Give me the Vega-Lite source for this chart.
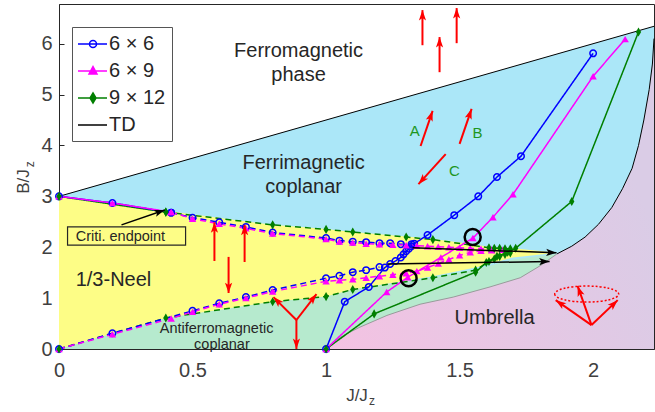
{
  "$schema": "https://vega.github.io/schema/vega-lite/v6.json",
  "width": 595,
  "height": 345,
  "autosize": {"type": "none"},
  "padding": {"left": 59, "top": 4, "right": 1, "bottom": 63},
  "background": "white",
  "config": {
    "view": {"stroke": "#262626", "strokeWidth": 1},
    "axis": {"grid": false, "domainColor": "#262626", "tickColor": "#262626", "labelColor": "#404040", "titleColor": "#404040", "labelFont": "Liberation Sans", "titleFont": "Liberation Sans", "labelFontSize": 20, "titleFontSize": 17, "titleFontWeight": "normal", "tickSize": -5, "labelFlush": false},
    "text": {"font": "Liberation Sans"},
    "legend": {"orient": "none", "legendX": 13, "legendY": 23, "padding": 6, "strokeColor": "#555555", "fillColor": "white", "labelFont": "Liberation Sans", "labelFontSize": 20, "labelColor": "#262626", "symbolSize": 400, "symbolStrokeWidth": 1.5, "rowPadding": 6, "labelOffset": 9, "symbolOpacity": 1, "cornerRadius": 0}
  },
  "datasets": {
    "regions": [
      {"region": "ferri", "i": 0, "x": 0, "y": 3},
      {"region": "ferri", "i": 1, "x": 2.228, "y": 6.342},
      {"region": "ferri", "i": 2, "x": 2.228, "y": 0},
      {"region": "ferri", "i": 3, "x": 0, "y": 0},
      {"region": "umbrella", "i": 0, "x": 1.0, "y": 0},
      {"region": "umbrella", "i": 1, "x": 1.03, "y": 0.15},
      {"region": "umbrella", "i": 2, "x": 1.07, "y": 0.28},
      {"region": "umbrella", "i": 3, "x": 1.127, "y": 0.43},
      {"region": "umbrella", "i": 4, "x": 1.228, "y": 0.66},
      {"region": "umbrella", "i": 5, "x": 1.352, "y": 0.88},
      {"region": "umbrella", "i": 6, "x": 1.476, "y": 1.02},
      {"region": "umbrella", "i": 7, "x": 1.614, "y": 1.22},
      {"region": "umbrella", "i": 8, "x": 1.727, "y": 1.4},
      {"region": "umbrella", "i": 9, "x": 1.8, "y": 1.63},
      {"region": "umbrella", "i": 10, "x": 1.865, "y": 1.87},
      {"region": "umbrella", "i": 11, "x": 1.92, "y": 2.02},
      {"region": "umbrella", "i": 12, "x": 1.97, "y": 2.2},
      {"region": "umbrella", "i": 13, "x": 2.02, "y": 2.45},
      {"region": "umbrella", "i": 14, "x": 2.07, "y": 2.78},
      {"region": "umbrella", "i": 15, "x": 2.11, "y": 3.15},
      {"region": "umbrella", "i": 16, "x": 2.146, "y": 3.55},
      {"region": "umbrella", "i": 17, "x": 2.17, "y": 4.0},
      {"region": "umbrella", "i": 18, "x": 2.19, "y": 4.5},
      {"region": "umbrella", "i": 19, "x": 2.21, "y": 5.1},
      {"region": "umbrella", "i": 20, "x": 2.222, "y": 5.6},
      {"region": "umbrella", "i": 21, "x": 2.228, "y": 6.1},
      {"region": "umbrella", "i": 22, "x": 2.228, "y": 0},
      {"region": "afm", "i": 0, "x": 0, "y": 0},
      {"region": "afm", "i": 1, "x": 0.4, "y": 0.61},
      {"region": "afm", "i": 2, "x": 0.8, "y": 0.93},
      {"region": "afm", "i": 3, "x": 1.0, "y": 1.03},
      {"region": "afm", "i": 4, "x": 1.1, "y": 1.17},
      {"region": "afm", "i": 5, "x": 1.4, "y": 1.4},
      {"region": "afm", "i": 6, "x": 1.56, "y": 1.56},
      {"region": "afm", "i": 7, "x": 1.7, "y": 1.76},
      {"region": "afm", "i": 8, "x": 1.865, "y": 1.87},
      {"region": "afm", "i": 9, "x": 1.8, "y": 1.63},
      {"region": "afm", "i": 10, "x": 1.727, "y": 1.4},
      {"region": "afm", "i": 11, "x": 1.614, "y": 1.22},
      {"region": "afm", "i": 12, "x": 1.476, "y": 1.02},
      {"region": "afm", "i": 13, "x": 1.352, "y": 0.88},
      {"region": "afm", "i": 14, "x": 1.228, "y": 0.66},
      {"region": "afm", "i": 15, "x": 1.127, "y": 0.43},
      {"region": "afm", "i": 16, "x": 1.07, "y": 0.28},
      {"region": "afm", "i": 17, "x": 1.03, "y": 0.15},
      {"region": "afm", "i": 18, "x": 1.0, "y": 0},
      {"region": "neel", "i": 0, "x": 0, "y": 3},
      {"region": "neel", "i": 1, "x": 0.42, "y": 2.7},
      {"region": "neel", "i": 2, "x": 0.8, "y": 2.44},
      {"region": "neel", "i": 3, "x": 1.0, "y": 2.36},
      {"region": "neel", "i": 4, "x": 1.1, "y": 2.3},
      {"region": "neel", "i": 5, "x": 1.3, "y": 2.21},
      {"region": "neel", "i": 6, "x": 1.4, "y": 2.16},
      {"region": "neel", "i": 7, "x": 1.55, "y": 2.06},
      {"region": "neel", "i": 8, "x": 1.62, "y": 2.0},
      {"region": "neel", "i": 9, "x": 1.7, "y": 1.98},
      {"region": "neel", "i": 10, "x": 1.865, "y": 1.89},
      {"region": "neel", "i": 11, "x": 1.7, "y": 1.8},
      {"region": "neel", "i": 12, "x": 1.56, "y": 1.6},
      {"region": "neel", "i": 13, "x": 1.4, "y": 1.43},
      {"region": "neel", "i": 14, "x": 1.1, "y": 1.17},
      {"region": "neel", "i": 15, "x": 1.0, "y": 1.03},
      {"region": "neel", "i": 16, "x": 0.8, "y": 0.93},
      {"region": "neel", "i": 17, "x": 0.4, "y": 0.61},
      {"region": "neel", "i": 18, "x": 0, "y": 0}
    ],
    "bounds": [
      {"curve": "tdline", "i": 0, "x": 0, "y": 3},
      {"curve": "tdline", "i": 1, "x": 2.228, "y": 6.342},
      {"curve": "tdcurve", "i": 0, "x": 1.865, "y": 1.87},
      {"curve": "tdcurve", "i": 1, "x": 1.92, "y": 2.02},
      {"curve": "tdcurve", "i": 2, "x": 1.97, "y": 2.2},
      {"curve": "tdcurve", "i": 3, "x": 2.02, "y": 2.45},
      {"curve": "tdcurve", "i": 4, "x": 2.07, "y": 2.78},
      {"curve": "tdcurve", "i": 5, "x": 2.11, "y": 3.15},
      {"curve": "tdcurve", "i": 6, "x": 2.146, "y": 3.55},
      {"curve": "tdcurve", "i": 7, "x": 2.17, "y": 4.0},
      {"curve": "tdcurve", "i": 8, "x": 2.19, "y": 4.5},
      {"curve": "tdcurve", "i": 9, "x": 2.21, "y": 5.1},
      {"curve": "tdcurve", "i": 10, "x": 2.222, "y": 5.6},
      {"curve": "tdcurve", "i": 11, "x": 2.228, "y": 6.1},
      {"curve": "gray", "i": 0, "x": 1.0, "y": 0},
      {"curve": "gray", "i": 1, "x": 1.03, "y": 0.15},
      {"curve": "gray", "i": 2, "x": 1.07, "y": 0.28},
      {"curve": "gray", "i": 3, "x": 1.127, "y": 0.43},
      {"curve": "gray", "i": 4, "x": 1.228, "y": 0.66},
      {"curve": "gray", "i": 5, "x": 1.352, "y": 0.88},
      {"curve": "gray", "i": 6, "x": 1.476, "y": 1.02},
      {"curve": "gray", "i": 7, "x": 1.614, "y": 1.22},
      {"curve": "gray", "i": 8, "x": 1.727, "y": 1.4},
      {"curve": "gray", "i": 9, "x": 1.8, "y": 1.63},
      {"curve": "gray", "i": 10, "x": 1.865, "y": 1.87}
    ],
    "series": [
      {"lattice": "6 × 6", "branch": "first", "x": 0, "y": 3.0},
      {"lattice": "6 × 6", "branch": "first", "x": 0.2, "y": 2.87},
      {"lattice": "6 × 6", "branch": "first", "x": 0.42, "y": 2.68},
      {"lattice": "6 × 6", "branch": "upper", "x": 0.42, "y": 2.68},
      {"lattice": "6 × 6", "branch": "upper", "x": 0.5, "y": 2.58},
      {"lattice": "6 × 6", "branch": "upper", "x": 0.6, "y": 2.49},
      {"lattice": "6 × 6", "branch": "upper", "x": 0.7, "y": 2.4},
      {"lattice": "6 × 6", "branch": "upper", "x": 0.8, "y": 2.29},
      {"lattice": "6 × 6", "branch": "upper", "x": 1.0, "y": 2.18},
      {"lattice": "6 × 6", "branch": "upper", "x": 1.05, "y": 2.13},
      {"lattice": "6 × 6", "branch": "upper", "x": 1.1, "y": 2.11},
      {"lattice": "6 × 6", "branch": "upper", "x": 1.15, "y": 2.1},
      {"lattice": "6 × 6", "branch": "upper", "x": 1.2, "y": 2.08},
      {"lattice": "6 × 6", "branch": "upper", "x": 1.24, "y": 2.08},
      {"lattice": "6 × 6", "branch": "upper", "x": 1.28, "y": 2.06},
      {"lattice": "6 × 6", "branch": "upper", "x": 1.32, "y": 2.06},
      {"lattice": "6 × 6", "branch": "lower", "x": 0, "y": 0},
      {"lattice": "6 × 6", "branch": "lower", "x": 0.2, "y": 0.31},
      {"lattice": "6 × 6", "branch": "lower", "x": 0.5, "y": 0.75},
      {"lattice": "6 × 6", "branch": "lower", "x": 0.6, "y": 0.9},
      {"lattice": "6 × 6", "branch": "lower", "x": 0.7, "y": 1.02},
      {"lattice": "6 × 6", "branch": "lower", "x": 0.8, "y": 1.16},
      {"lattice": "6 × 6", "branch": "lower", "x": 1.0, "y": 1.39},
      {"lattice": "6 × 6", "branch": "lower", "x": 1.05, "y": 1.44},
      {"lattice": "6 × 6", "branch": "lower", "x": 1.1, "y": 1.51},
      {"lattice": "6 × 6", "branch": "lower", "x": 1.15, "y": 1.55},
      {"lattice": "6 × 6", "branch": "lower", "x": 1.2, "y": 1.61},
      {"lattice": "6 × 6", "branch": "transition", "x": 1.0, "y": 0},
      {"lattice": "6 × 6", "branch": "transition", "x": 1.07, "y": 0.93},
      {"lattice": "6 × 6", "branch": "transition", "x": 1.16, "y": 1.22},
      {"lattice": "6 × 6", "branch": "transition", "x": 1.22, "y": 1.6},
      {"lattice": "6 × 6", "branch": "transition", "x": 1.24, "y": 1.67},
      {"lattice": "6 × 6", "branch": "transition", "x": 1.26, "y": 1.73},
      {"lattice": "6 × 6", "branch": "transition", "x": 1.28, "y": 1.8},
      {"lattice": "6 × 6", "branch": "transition", "x": 1.29, "y": 1.86},
      {"lattice": "6 × 6", "branch": "transition", "x": 1.3, "y": 1.92},
      {"lattice": "6 × 6", "branch": "transition", "x": 1.31, "y": 1.97},
      {"lattice": "6 × 6", "branch": "transition", "x": 1.32, "y": 2.02},
      {"lattice": "6 × 6", "branch": "transition", "x": 1.33, "y": 2.07},
      {"lattice": "6 × 6", "branch": "transition", "x": 1.38, "y": 2.24},
      {"lattice": "6 × 6", "branch": "transition", "x": 1.48, "y": 2.63},
      {"lattice": "6 × 6", "branch": "transition", "x": 1.57, "y": 3.0},
      {"lattice": "6 × 6", "branch": "transition", "x": 1.64, "y": 3.38},
      {"lattice": "6 × 6", "branch": "transition", "x": 1.73, "y": 3.79},
      {"lattice": "6 × 6", "branch": "transition", "x": 2.0, "y": 5.81},
      {"lattice": "6 × 9", "branch": "first", "x": 0, "y": 3.0},
      {"lattice": "6 × 9", "branch": "first", "x": 0.2, "y": 2.87},
      {"lattice": "6 × 9", "branch": "first", "x": 0.42, "y": 2.69},
      {"lattice": "6 × 9", "branch": "upper", "x": 0.42, "y": 2.69},
      {"lattice": "6 × 9", "branch": "upper", "x": 0.5, "y": 2.56},
      {"lattice": "6 × 9", "branch": "upper", "x": 0.6, "y": 2.46},
      {"lattice": "6 × 9", "branch": "upper", "x": 0.7, "y": 2.37},
      {"lattice": "6 × 9", "branch": "upper", "x": 0.8, "y": 2.27},
      {"lattice": "6 × 9", "branch": "upper", "x": 1.0, "y": 2.16},
      {"lattice": "6 × 9", "branch": "upper", "x": 1.05, "y": 2.11},
      {"lattice": "6 × 9", "branch": "upper", "x": 1.1, "y": 2.09},
      {"lattice": "6 × 9", "branch": "upper", "x": 1.15, "y": 2.07},
      {"lattice": "6 × 9", "branch": "upper", "x": 1.2, "y": 2.06},
      {"lattice": "6 × 9", "branch": "upper", "x": 1.25, "y": 2.05},
      {"lattice": "6 × 9", "branch": "upper", "x": 1.3, "y": 2.04},
      {"lattice": "6 × 9", "branch": "upper", "x": 1.34, "y": 2.03},
      {"lattice": "6 × 9", "branch": "upper", "x": 1.38, "y": 2.02},
      {"lattice": "6 × 9", "branch": "upper", "x": 1.42, "y": 2.01},
      {"lattice": "6 × 9", "branch": "upper", "x": 1.46, "y": 2.0},
      {"lattice": "6 × 9", "branch": "upper", "x": 1.5, "y": 1.99},
      {"lattice": "6 × 9", "branch": "upper", "x": 1.54, "y": 1.98},
      {"lattice": "6 × 9", "branch": "upper", "x": 1.58, "y": 1.97},
      {"lattice": "6 × 9", "branch": "upper", "x": 1.62, "y": 1.96},
      {"lattice": "6 × 9", "branch": "upper", "x": 1.66, "y": 1.95},
      {"lattice": "6 × 9", "branch": "lower", "x": 0, "y": 0},
      {"lattice": "6 × 9", "branch": "lower", "x": 0.2, "y": 0.29},
      {"lattice": "6 × 9", "branch": "lower", "x": 0.42, "y": 0.6},
      {"lattice": "6 × 9", "branch": "lower", "x": 0.5, "y": 0.73},
      {"lattice": "6 × 9", "branch": "lower", "x": 0.6, "y": 0.88},
      {"lattice": "6 × 9", "branch": "lower", "x": 0.7, "y": 1.0},
      {"lattice": "6 × 9", "branch": "lower", "x": 0.8, "y": 1.13},
      {"lattice": "6 × 9", "branch": "lower", "x": 1.0, "y": 1.33},
      {"lattice": "6 × 9", "branch": "lower", "x": 1.05, "y": 1.35},
      {"lattice": "6 × 9", "branch": "lower", "x": 1.1, "y": 1.37},
      {"lattice": "6 × 9", "branch": "lower", "x": 1.15, "y": 1.4},
      {"lattice": "6 × 9", "branch": "lower", "x": 1.2, "y": 1.43},
      {"lattice": "6 × 9", "branch": "lower", "x": 1.25, "y": 1.46},
      {"lattice": "6 × 9", "branch": "lower", "x": 1.3, "y": 1.49},
      {"lattice": "6 × 9", "branch": "lower", "x": 1.34, "y": 1.53},
      {"lattice": "6 × 9", "branch": "lower", "x": 1.38, "y": 1.6},
      {"lattice": "6 × 9", "branch": "lower", "x": 1.42, "y": 1.68},
      {"lattice": "6 × 9", "branch": "lower", "x": 1.46, "y": 1.76},
      {"lattice": "6 × 9", "branch": "lower", "x": 1.5, "y": 1.84},
      {"lattice": "6 × 9", "branch": "lower", "x": 1.54, "y": 1.9},
      {"lattice": "6 × 9", "branch": "lower", "x": 1.58, "y": 1.93},
      {"lattice": "6 × 9", "branch": "lower", "x": 1.62, "y": 1.94},
      {"lattice": "6 × 9", "branch": "transition", "x": 1.0, "y": 0},
      {"lattice": "6 × 9", "branch": "transition", "x": 1.227, "y": 1.12},
      {"lattice": "6 × 9", "branch": "transition", "x": 1.306, "y": 1.41},
      {"lattice": "6 × 9", "branch": "transition", "x": 1.43, "y": 1.8},
      {"lattice": "6 × 9", "branch": "transition", "x": 1.55, "y": 2.18},
      {"lattice": "6 × 9", "branch": "transition", "x": 1.625, "y": 2.59},
      {"lattice": "6 × 9", "branch": "transition", "x": 1.7, "y": 3.04},
      {"lattice": "6 × 9", "branch": "transition", "x": 2.0, "y": 5.36},
      {"lattice": "6 × 9", "branch": "transition", "x": 2.12, "y": 6.09},
      {"lattice": "9 × 12", "branch": "first", "x": 0, "y": 3.0},
      {"lattice": "9 × 12", "branch": "first", "x": 0.4, "y": 2.69},
      {"lattice": "9 × 12", "branch": "upper", "x": 0.4, "y": 2.69},
      {"lattice": "9 × 12", "branch": "upper", "x": 0.8, "y": 2.44},
      {"lattice": "9 × 12", "branch": "upper", "x": 1.0, "y": 2.35},
      {"lattice": "9 × 12", "branch": "upper", "x": 1.1, "y": 2.3},
      {"lattice": "9 × 12", "branch": "upper", "x": 1.3, "y": 2.2},
      {"lattice": "9 × 12", "branch": "upper", "x": 1.4, "y": 2.15},
      {"lattice": "9 × 12", "branch": "upper", "x": 1.61, "y": 1.99},
      {"lattice": "9 × 12", "branch": "upper", "x": 1.63, "y": 1.98},
      {"lattice": "9 × 12", "branch": "upper", "x": 1.65, "y": 1.98},
      {"lattice": "9 × 12", "branch": "upper", "x": 1.67, "y": 1.97},
      {"lattice": "9 × 12", "branch": "upper", "x": 1.69, "y": 1.97},
      {"lattice": "9 × 12", "branch": "lower", "x": 0, "y": 0},
      {"lattice": "9 × 12", "branch": "lower", "x": 0.4, "y": 0.61},
      {"lattice": "9 × 12", "branch": "lower", "x": 0.8, "y": 0.93},
      {"lattice": "9 × 12", "branch": "lower", "x": 1.0, "y": 1.03},
      {"lattice": "9 × 12", "branch": "lower", "x": 1.1, "y": 1.17},
      {"lattice": "9 × 12", "branch": "lower", "x": 1.4, "y": 1.4},
      {"lattice": "9 × 12", "branch": "lower", "x": 1.56, "y": 1.55},
      {"lattice": "9 × 12", "branch": "lower", "x": 1.61, "y": 1.72},
      {"lattice": "9 × 12", "branch": "lower", "x": 1.63, "y": 1.77},
      {"lattice": "9 × 12", "branch": "lower", "x": 1.65, "y": 1.82},
      {"lattice": "9 × 12", "branch": "lower", "x": 1.67, "y": 1.86},
      {"lattice": "9 × 12", "branch": "lower", "x": 1.69, "y": 1.89},
      {"lattice": "9 × 12", "branch": "transition", "x": 1.0, "y": 0},
      {"lattice": "9 × 12", "branch": "transition", "x": 1.18, "y": 0.69},
      {"lattice": "9 × 12", "branch": "transition", "x": 1.56, "y": 1.51},
      {"lattice": "9 × 12", "branch": "transition", "x": 1.6, "y": 1.7},
      {"lattice": "9 × 12", "branch": "transition", "x": 1.64, "y": 1.82},
      {"lattice": "9 × 12", "branch": "transition", "x": 1.68, "y": 1.9},
      {"lattice": "9 × 12", "branch": "transition", "x": 1.71, "y": 1.98},
      {"lattice": "9 × 12", "branch": "transition", "x": 1.92, "y": 2.9},
      {"lattice": "9 × 12", "branch": "transition", "x": 2.17, "y": 6.23}
    ],
    "arrows": [
      {"kind": "red", "x": 1.361, "y": 5.97, "x2": 1.361, "y2": 6.66},
      {"kind": "red", "x": 1.425, "y": 5.44, "x2": 1.425, "y2": 6.13},
      {"kind": "red", "x": 1.489, "y": 6.01, "x2": 1.489, "y2": 6.7},
      {"kind": "red", "x": 1.354, "y": 3.99, "x2": 1.399, "y2": 4.68},
      {"kind": "red", "x": 1.5, "y": 4.03, "x2": 1.545, "y2": 4.72},
      {"kind": "red", "x": 1.448, "y": 3.83, "x2": 1.346, "y2": 3.24},
      {"kind": "red", "x": 0.582, "y": 1.73, "x2": 0.582, "y2": 2.49},
      {"kind": "red", "x": 0.695, "y": 1.71, "x2": 0.695, "y2": 2.44},
      {"kind": "red", "x": 0.635, "y": 1.81, "x2": 0.635, "y2": 1.1},
      {"kind": "red", "x": 0.889, "y": 0.57, "x2": 0.803, "y2": 1.02},
      {"kind": "red", "x": 0.889, "y": 0.57, "x2": 0.964, "y2": 1.08},
      {"kind": "red", "x": 0.889, "y": 0.57, "x2": 0.889, "y2": 0.0},
      {"kind": "red", "x": 1.994, "y": 0.47, "x2": 1.86, "y2": 0.96},
      {"kind": "red", "x": 1.994, "y": 0.47, "x2": 1.942, "y2": 1.24},
      {"kind": "red", "x": 1.994, "y": 0.47, "x2": 2.092, "y2": 0.96},
      {"kind": "black", "x": 0.234, "y": 2.44, "x2": 0.396, "y2": 2.73},
      {"kind": "black", "x": 1.324, "y": 1.99, "x2": 1.863, "y2": 1.89},
      {"kind": "black", "x": 1.23, "y": 1.67, "x2": 1.837, "y2": 1.72}
    ],
    "labels": [
      {"kind": "big", "text": "Ferromagnetic", "x": 0.897, "y": 5.85},
      {"kind": "big", "text": "phase", "x": 0.897, "y": 5.38},
      {"kind": "big", "text": "Ferrimagnetic", "x": 0.916, "y": 3.65},
      {"kind": "big", "text": "coplanar", "x": 0.916, "y": 3.18},
      {"kind": "big", "text": "1/3-Neel", "x": 0.204, "y": 1.36},
      {"kind": "big", "text": "Umbrella", "x": 1.631, "y": 0.61},
      {"kind": "small", "text": "Antiferromagnetic", "x": 0.59, "y": 0.39},
      {"kind": "small", "text": "coplanar", "x": 0.61, "y": 0.08},
      {"kind": "small", "text": "Criti. endpoint", "x": 0.23, "y": 2.2},
      {"kind": "abc", "text": "A", "x": 1.332, "y": 4.28},
      {"kind": "abc", "text": "B", "x": 1.567, "y": 4.24},
      {"kind": "abc", "text": "C", "x": 1.481, "y": 3.5}
    ]
  },
  "layer": [
    {
      "data": {"values": [{"lattice": "6 × 6"}, {"lattice": "6 × 9"}, {"lattice": "9 × 12"}, {"lattice": "TD"}]},
      "mark": {"type": "point", "clip": true, "opacity": 1, "strokeWidth": 1.5},
      "encoding": {
        "x": {"datum": -1, "type": "quantitative"},
        "y": {"datum": -1, "type": "quantitative"},
        "shape": {"field": "lattice", "type": "nominal", "legend": {"title": null}, "scale": {"domain": ["6 × 6", "6 × 9", "9 × 12", "TD"], "range": ["M-1.1,0H1.8M0.75,0A0.35,0.35,0,1,1,0.05,0A0.35,0.35,0,1,1,0.75,0Z", "M-1.1,0H1.8M0.4,-0.45L0.8,0.3L0,0.3Z", "M-1.1,0H1.8M0.4,-0.5L0.7,0L0.4,0.5L0.1,0Z", "M-1.1,0H1.8"]}},
        "stroke": {"field": "lattice", "type": "nominal", "legend": {"title": null}, "scale": {"domain": ["6 × 6", "6 × 9", "9 × 12", "TD"], "range": ["#0000FF", "#FF00FF", "#007F00", "#000000"]}},
        "fill": {"field": "lattice", "type": "nominal", "legend": {"title": null}, "scale": {"domain": ["6 × 6", "6 × 9", "9 × 12", "TD"], "range": ["transparent", "#FF00FF", "#007F00", "transparent"]}}
      }
    },
    {
      "data": {"name": "regions"},
      "transform": [{"filter": "datum.region == 'ferri'"}],
      "mark": {"type": "line", "fill": "#ABE7F8", "strokeWidth": 0, "interpolate": "linear-closed"},
      "encoding": {
        "x": {"field": "x", "type": "quantitative", "scale": {"domain": [0, 2.228], "nice": false}, "axis": {"values": [0, 0.5, 1, 1.5, 2], "format": "~g", "title": "J/J", "labelPadding": 16, "titleBaseline": "alphabetic", "titleY": 51}},
        "y": {"field": "y", "type": "quantitative", "scale": {"domain": [0, 6.78], "nice": false, "zero": false}, "axis": {"values": [0, 1, 2, 3, 4, 5, 6], "title": "B/J", "labelPadding": 12, "titleAngle": -90, "titleBaseline": "alphabetic", "titleX": -31, "titleY": 177, "titleAlign": "center"}},
        "order": {"field": "i"}
      }
    },
    {
      "data": {"name": "regions"},
      "transform": [{"filter": "datum.region == 'umbrella'"}],
      "mark": {"type": "line", "strokeWidth": 0, "interpolate": "linear-closed", "fill": {"gradient": "linear", "x1": 0, "y1": 1, "x2": 1, "y2": 0.6, "stops": [{"offset": 0, "color": "#F4C2E2"}, {"offset": 1, "color": "#DACCE6"}]}},
      "encoding": {"x": {"field": "x", "type": "quantitative"}, "y": {"field": "y", "type": "quantitative"}, "order": {"field": "i"}}
    },
    {
      "data": {"name": "regions"},
      "transform": [{"filter": "datum.region == 'afm'"}],
      "mark": {"type": "line", "fill": "#B6EACE", "strokeWidth": 0, "interpolate": "linear-closed"},
      "encoding": {"x": {"field": "x", "type": "quantitative"}, "y": {"field": "y", "type": "quantitative"}, "order": {"field": "i"}}
    },
    {
      "data": {"name": "regions"},
      "transform": [{"filter": "datum.region == 'neel'"}],
      "mark": {"type": "line", "fill": "#FDFD86", "strokeWidth": 0, "interpolate": "linear-closed"},
      "encoding": {"x": {"field": "x", "type": "quantitative"}, "y": {"field": "y", "type": "quantitative"}, "order": {"field": "i"}}
    },
    {
      "data": {"name": "bounds"},
      "transform": [{"filter": "datum.curve == 'gray'"}],
      "mark": {"type": "line", "stroke": "#9A9A9A", "strokeWidth": 1},
      "encoding": {"x": {"field": "x", "type": "quantitative"}, "y": {"field": "y", "type": "quantitative"}, "order": {"field": "i"}}
    },
    {
      "data": {"name": "bounds"},
      "transform": [{"filter": "datum.curve != 'gray'"}],
      "mark": {"type": "line", "stroke": "#000000", "strokeWidth": 1},
      "encoding": {"x": {"field": "x", "type": "quantitative"}, "y": {"field": "y", "type": "quantitative"}, "detail": {"field": "curve"}, "order": {"field": "i"}}
    },
    {
      "data": {"name": "series"},
      "transform": [{"filter": "datum.lattice == '9 × 12'"}],
      "mark": {"type": "line", "stroke": "#007F00", "strokeWidth": 1.5},
      "encoding": {"x": {"field": "x", "type": "quantitative"}, "y": {"field": "y", "type": "quantitative"}, "detail": {"field": "branch"}, "strokeDash": {"field": "branch", "type": "nominal", "legend": null, "scale": {"domain": ["first", "transition", "upper", "lower"], "range": [[1, 0], [1, 0], [6, 4], [6, 4]]}}}
    },
    {
      "data": {"name": "series"},
      "transform": [{"filter": "datum.lattice == '6 × 6'"}],
      "mark": {"type": "line", "stroke": "#0000FF", "strokeWidth": 1.5},
      "encoding": {"x": {"field": "x", "type": "quantitative"}, "y": {"field": "y", "type": "quantitative"}, "detail": {"field": "branch"}, "strokeDash": {"field": "branch", "type": "nominal", "legend": null}}
    },
    {
      "data": {"name": "series"},
      "transform": [{"filter": "datum.lattice == '6 × 9'"}],
      "mark": {"type": "line", "stroke": "#FF00FF", "strokeWidth": 1.5},
      "encoding": {"x": {"field": "x", "type": "quantitative"}, "y": {"field": "y", "type": "quantitative"}, "detail": {"field": "branch"}, "strokeDash": {"field": "branch", "type": "nominal", "legend": null}}
    },
    {
      "data": {"name": "series"},
      "transform": [{"filter": "datum.lattice == '6 × 6'"}],
      "mark": {"type": "point", "shape": "circle", "size": 42, "filled": false, "stroke": "#0000FF", "strokeWidth": 1.5, "opacity": 1},
      "encoding": {"x": {"field": "x", "type": "quantitative"}, "y": {"field": "y", "type": "quantitative"}}
    },
    {
      "data": {"name": "series"},
      "transform": [{"filter": "datum.lattice == '6 × 9'"}],
      "mark": {"type": "point", "shape": "triangle-up", "size": 55, "filled": true, "fill": "#FF00FF", "opacity": 1},
      "encoding": {"x": {"field": "x", "type": "quantitative"}, "y": {"field": "y", "type": "quantitative"}}
    },
    {
      "data": {"name": "series"},
      "transform": [{"filter": "datum.lattice == '9 × 12'"}],
      "mark": {"type": "point", "shape": "M0,-1.3L0.75,0L0,1.3L-0.75,0Z", "size": 49, "filled": true, "fill": "#007F00", "opacity": 1},
      "encoding": {"x": {"field": "x", "type": "quantitative"}, "y": {"field": "y", "type": "quantitative"}}
    },
    {
      "data": {"name": "arrows"},
      "transform": [{"filter": "datum.kind == 'red'"}],
      "mark": {"type": "rule", "strokeWidth": 2, "stroke": "#FF0000"},
      "encoding": {"x": {"field": "x", "type": "quantitative"}, "y": {"field": "y", "type": "quantitative"}, "x2": {"field": "x2"}, "y2": {"field": "y2"}}
    },
    {
      "data": {"name": "arrows"},
      "transform": [{"filter": "datum.kind == 'black'"}],
      "mark": {"type": "rule", "strokeWidth": 1.5, "stroke": "#000000"},
      "encoding": {"x": {"field": "x", "type": "quantitative"}, "y": {"field": "y", "type": "quantitative"}, "x2": {"field": "x2"}, "y2": {"field": "y2"}}
    },
    {
      "data": {"name": "arrows"},
      "transform": [{"filter": "datum.kind == 'red'"}, {"calculate": "atan2((datum.x2 - datum.x) * 267, (datum.y2 - datum.y) * 50.9) * 180 / PI", "as": "ang"}],
      "mark": {"type": "point", "shape": "M0,0L-0.9,2.6L0,2L0.9,2.6Z", "size": 64, "filled": true, "fill": "#FF0000", "opacity": 1, "strokeWidth": 0},
      "encoding": {"x": {"field": "x2", "type": "quantitative"}, "y": {"field": "y2", "type": "quantitative"}, "angle": {"field": "ang", "type": "quantitative", "scale": null}}
    },
    {
      "data": {"name": "arrows"},
      "transform": [{"filter": "datum.kind == 'black'"}, {"calculate": "atan2((datum.x2 - datum.x) * 267, (datum.y2 - datum.y) * 50.9) * 180 / PI", "as": "ang"}],
      "mark": {"type": "point", "shape": "M0,0L-0.9,2.6L0,2L0.9,2.6Z", "size": 64, "filled": true, "fill": "#000000", "opacity": 1, "strokeWidth": 0},
      "encoding": {"x": {"field": "x2", "type": "quantitative"}, "y": {"field": "y2", "type": "quantitative"}, "angle": {"field": "ang", "type": "quantitative", "scale": null}}
    },
    {
      "data": {"values": [{"x": 1.976, "y": 1.08}]},
      "mark": {"type": "point", "shape": "M-1,0A1,0.25,0,1,0,1,0A1,0.25,0,1,0,-1,0Z", "size": 4096, "filled": false, "stroke": "#FF0000", "strokeWidth": 1.5, "strokeDash": [2, 2], "opacity": 1},
      "encoding": {"x": {"field": "x", "type": "quantitative"}, "y": {"field": "y", "type": "quantitative"}}
    },
    {
      "data": {"values": [{"x": 1.549, "y": 2.2}, {"x": 1.309, "y": 1.39}]},
      "mark": {"type": "point", "shape": "circle", "size": 256, "filled": false, "stroke": "#000000", "strokeWidth": 2.5, "opacity": 1},
      "encoding": {"x": {"field": "x", "type": "quantitative"}, "y": {"field": "y", "type": "quantitative"}}
    },
    {
      "data": {"values": [{"x": 0.032, "x2": 0.474, "y": 2.4, "y2": 2.04}]},
      "mark": {"type": "rect", "fill": null, "fillOpacity": 0, "stroke": "#262626", "strokeWidth": 1.2},
      "encoding": {"x": {"field": "x", "type": "quantitative"}, "x2": {"field": "x2"}, "y": {"field": "y", "type": "quantitative"}, "y2": {"field": "y2"}}
    },
    {
      "data": {"name": "labels"},
      "transform": [{"filter": "datum.kind == 'big'"}],
      "mark": {"type": "text", "fontSize": 20, "color": "#262626", "baseline": "middle", "align": "center"},
      "encoding": {"x": {"field": "x", "type": "quantitative"}, "y": {"field": "y", "type": "quantitative"}, "text": {"field": "text"}}
    },
    {
      "data": {"name": "labels"},
      "transform": [{"filter": "datum.kind == 'small'"}],
      "mark": {"type": "text", "fontSize": 14.5, "color": "#262626", "baseline": "middle", "align": "center"},
      "encoding": {"x": {"field": "x", "type": "quantitative"}, "y": {"field": "y", "type": "quantitative"}, "text": {"field": "text"}}
    },
    {
      "data": {"name": "labels"},
      "transform": [{"filter": "datum.kind == 'abc'"}],
      "mark": {"type": "text", "fontSize": 15, "color": "#1E961E", "baseline": "middle", "align": "center"},
      "encoding": {"x": {"field": "x", "type": "quantitative"}, "y": {"field": "y", "type": "quantitative"}, "text": {"field": "text"}}
    },
    {
      "data": {"values": [{"t": "z", "x": 1.172, "y": -1.1}]},
      "mark": {"type": "text", "fontSize": 12, "color": "#404040", "baseline": "alphabetic", "align": "center"},
      "encoding": {"x": {"field": "x", "type": "quantitative"}, "y": {"field": "y", "type": "quantitative"}, "text": {"field": "t"}}
    },
    {
      "data": {"values": [{"t": "z", "x": -0.095, "y": 3.63}]},
      "mark": {"type": "text", "fontSize": 12, "color": "#404040", "baseline": "alphabetic", "align": "center", "angle": 270},
      "encoding": {"x": {"field": "x", "type": "quantitative"}, "y": {"field": "y", "type": "quantitative"}, "text": {"field": "t"}}
    }
  ]
}
